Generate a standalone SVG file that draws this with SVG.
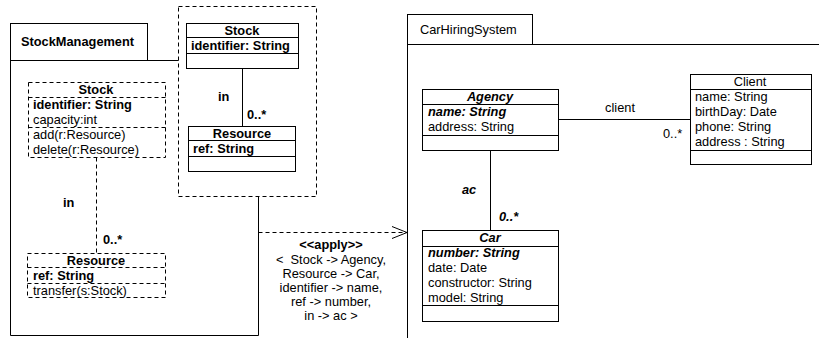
<svg xmlns="http://www.w3.org/2000/svg" width="819" height="338" viewBox="0 0 819 338">
<defs>
<marker id="open" markerWidth="18" markerHeight="14" refX="16" refY="7" orient="auto" markerUnits="userSpaceOnUse">
<path d="M1,1 L16,7 L1,13" fill="none" stroke="#000" stroke-width="1"/>
</marker>
</defs>
<style>
text{font-family:"Liberation Sans",Arial,sans-serif;font-size:12.8px;fill:#000}
.b{font-weight:bold}
.bi{font-weight:bold;font-style:italic}
.c{text-anchor:middle}
.pre{white-space:pre}
.box{fill:#fff;stroke:#000;stroke-width:1}
.dbox{fill:none;stroke:#000;stroke-width:1;stroke-dasharray:4,3}
.ln{stroke:#000;stroke-width:1;fill:none}
.dl{stroke:#000;stroke-width:1;fill:none;stroke-dasharray:4,3}
</style>
<rect width="819" height="338" fill="#fff"/>
<g id="pkg-stockmanagement">
<rect class="box" x="10.5" y="23.5" width="137" height="37"/>
<text x="21" y="46" class="b">StockManagement</text>
<path class="ln" d="M10.5,60.5 L178.5,60.5 M258.5,196.5 L258.5,335.5 L10.5,335.5 L10.5,60.5"/>
</g>
<g id="template">
<rect class="dbox" x="178.5" y="6.5" width="138" height="190"/>
</g>
<g id="tpl-stock">
<rect class="box" x="186.5" y="23.5" width="112" height="45"/>
<path class="ln" d="M186.5,37.5 H298.5 M186.5,53.5 H298.5"/>
<text x="242" y="35" class="b c">Stock</text>
<text x="191" y="50" class="b">identifier: String</text>
</g>
<g id="tpl-resource">
<rect class="box" x="188.5" y="126.5" width="107" height="45"/>
<path class="ln" d="M188.5,140.5 H295.5 M188.5,156.5 H295.5"/>
<text x="242" y="138" class="b c">Resource</text>
<text x="193" y="153" class="b">ref: String</text>
</g>
<g id="sm-stock">
<rect class="dbox" x="28.5" y="82.5" width="137" height="75"/>
<path class="dl" d="M28.5,97.5 H165.5 M28.5,127.5 H165.5"/>
<text x="96" y="94" class="b c">Stock</text>
<text x="33" y="109" class="b">identifier: String</text>
<text x="33" y="124">capacity:int</text>
<text x="33" y="139">add(r:Resource)</text>
<text x="33" y="154">delete(r:Resource)</text>
</g>
<g id="sm-resource">
<rect class="dbox" x="27.5" y="253.5" width="138" height="44"/>
<path class="dl" d="M27.5,267.5 H165.5 M27.5,283.5 H165.5"/>
<text x="96" y="265" class="b c">Resource</text>
<text x="33" y="280" class="b">ref: String</text>
<text x="33" y="295">transfer(s:Stock)</text>
</g>
<g id="pkg-carhiringsystem">
<rect class="box" x="407.5" y="14.5" width="125" height="30"/>
<text x="420" y="34">CarHiringSystem</text>
<path class="ln" d="M407.5,44.5 H819 M407.5,44.5 V338"/>
</g>
<g id="agency">
<rect class="box" x="422.5" y="89.5" width="136" height="61"/>
<path class="ln" d="M422.5,104.5 H558.5 M422.5,135.5 H558.5"/>
<text x="490" y="101" class="bi c">Agency</text>
<text x="428" y="116" class="bi">name: String</text>
<text x="428" y="131">address: String</text>
</g>
<g id="client">
<rect class="box" x="690.5" y="74.5" width="121" height="90"/>
<path class="ln" d="M690.5,89.5 H811.5 M690.5,150.5 H811.5"/>
<text x="750" y="86" class="c">Client</text>
<text x="695" y="101">name: String</text>
<text x="695" y="116">birthDay: Date</text>
<text x="695" y="131">phone: String</text>
<text x="695" y="146">address : String</text>
</g>
<g id="car">
<rect class="box" x="422.5" y="230.5" width="136" height="91"/>
<path class="ln" d="M422.5,246.5 H558.5 M422.5,305.5 H558.5"/>
<text x="490" y="242" class="bi c">Car</text>
<text x="428" y="257" class="bi">number: String</text>
<text x="428" y="272">date: Date</text>
<text x="428" y="287">constructor: String</text>
<text x="428" y="302">model: String</text>
</g>
<g id="connectors">
<path class="ln" d="M242.5,68.5 V126.5"/>
<text x="218" y="101" class="b">in</text>
<text x="247" y="119" class="b">0..*</text>
<path class="dl" d="M96.5,157.5 V253.5"/>
<text x="63" y="207" class="b">in</text>
<text x="103" y="244" class="b">0..*</text>
<path class="ln" d="M558.5,119.5 H690.5"/>
<text x="620" y="112" class="c">client</text>
<text x="663" y="138">0..*</text>
<path class="ln" d="M490.5,150.5 V230.5"/>
<text x="462" y="194" class="bi">ac</text>
<text x="499" y="221" class="bi">0..*</text>
<path class="dl" d="M258.5,232.5 H407" marker-end="url(#open)"/>
<text x="331" y="249" class="b c">&lt;&lt;apply&gt;&gt;</text>
<text x="331" y="264" class="c pre">&lt;  Stock -&gt; Agency,</text>
<text x="331" y="278" class="c">Resource -&gt; Car,</text>
<text x="331" y="292" class="c">identifier -&gt; name,</text>
<text x="331" y="306" class="c">ref -&gt; number,</text>
<text x="331" y="320" class="c">in -&gt; ac &gt;</text>
</g>
</svg>
